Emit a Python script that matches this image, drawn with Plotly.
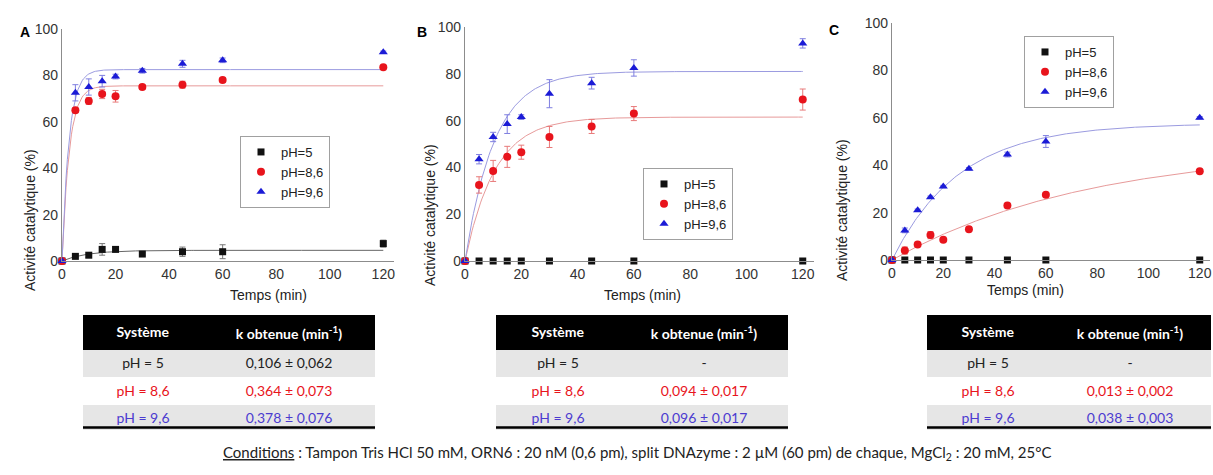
import numpy as np
import plotly.graph_objects as go

# ---------------- data ----------------
time_min = [0, 5, 10, 15, 20, 30, 45, 60, 120]
series_names = ["pH=5", "pH=8,6", "pH=9,6"]

# Panel A
A_ph5 = [0, 2, 2.5, 5, 5, 3, 4, 4, 7.5]
A_ph5_err = [0, 0.5, 1, 2.5, 0.5, 0.5, 2, 3, 1.5]
A_ph86 = [0, 65, 69, 72, 71, 75, 76, 78, 83.5]
A_ph86_err = [0, 1, 1.5, 2, 2.5, 1, 1.5, 1, 0.5]
A_ph96 = [0, 72.5, 75, 77.5, 79.5, 82, 85, 86.5, 90]
A_ph96_err = [0, 3.5, 3.5, 2.5, 1, 1, 1.5, 1, 0.5]

# Panel B
B_ph5 = [0, 0, 0, 0, 0, 0, 0, 0, 0]
B_ph5_err = [0, 0, 0, 0, 0, 0, 0, 0, 0]
B_ph86 = [0, 32.5, 38.5, 44.5, 46.5, 53, 57.5, 63, 69]
B_ph86_err = [0, 3.5, 4.5, 4.5, 3, 4.5, 3, 3, 4.5]
B_ph96 = [0, 43.5, 53, 58.5, 61.5, 71.5, 76, 82.5, 93]
B_ph96_err = [0, 2, 2, 4, 1, 6, 2.5, 3.5, 2]

# Panel C
C_ph5 = [0, 0, 0, 0, 0, 0, 0, 0, 0]
C_ph5_err = [0, 0, 0, 0, 0, 0, 0, 0, 0]
C_ph86 = [0, 4, 6.5, 10.5, 8.5, 13, 23, 27.5, 37.5]
C_ph86_err = [0, 1.5, 0.5, 1.5, 0.5, 1, 0.5, 0.5, 0.5]
C_ph96 = [0, 12.5, 21, 26.5, 31, 38.5, 44.5, 50, 60]
C_ph96_err = [0, 1, 0.5, 0.5, 0.5, 0.5, 1, 2.5, 0.5]

# fitted first-order parameters (k from tables, plateau)
A_k = [0.106, 0.364, 0.378]
A_plateau = [4.6, 75.5, 82.5]
B_k = [None, 0.094, 0.096]
B_plateau = [None, 61.5, 81.0]
C_k = [None, 0.013, 0.038]
C_plateau = [None, 47.5, 57.6]

# tables
table_sys = ["pH = 5", "pH = 8,6", "pH = 9,6"]
A_table_k = ["0,106 ± 0,062", "0,364 ± 0,073", "0,378 ± 0,076"]
B_table_k = ["-", "0,094 ± 0,017", "0,096 ± 0,017"]
C_table_k = ["-", "0,013 ± 0,002", "0,038 ± 0,003"]
table_header = ["<b>Système</b>", "<b>k obtenue (min<sup>-1</sup>)</b>"]

panel_letters = ["A", "B", "C"]
y_title = "Activité catalytique (%)"
x_title = "Temps (min)"
x_ticks = [0, 20, 40, 60, 80, 100, 120]
y_ticks = [0, 20, 40, 60, 80, 100]
conditions = ("<u>Conditions</u> : Tampon Tris HCl 50 mM, ORN6 : 20 nM (0,6 pm), "
              "split DNAzyme : 2 µM (60 pm) de chaque, MgCl<sub>2</sub> : 20 mM, 25°C")

# ---------------- style ----------------
W, H = 1213, 475
marker_colors = ["#111111", "#e8141c", "#1b1bd6"]
fit_colors = ["#666666", "#e79a9a", "#9b9be0"]
err_colors = ["#777777", "#e87a7a", "#7f7fe0"]
symbols = ["square", "circle", "triangle-up"]
sizes = [7, 8, 8]
row_text_colors = ["#222222", "#e8141c", "#4b3bd0"]
row_fills = ["#e6e6e6", "#ffffff", "#e6e6e6"]

def px(x):
    return x / W

def py(y):
    return 1 - y / H

panels = [
    dict(data=[A_ph5, A_ph86, A_ph96], err=[A_ph5_err, A_ph86_err, A_ph96_err],
         k=A_k, plat=A_plateau, xd=(62, 394), yd=(261, 29),
         legend=(240, 136), letter=(18, 22), ytitle=(20, 147), xtitle=(228, 295),
         table=(83, 375, 120), tk=A_table_k),
    dict(data=[B_ph5, B_ph86, B_ph96], err=[B_ph5_err, B_ph86_err, B_ph96_err],
         k=B_k, plat=B_plateau, xd=(465, 814), yd=(261, 27),
         legend=(643, 168), letter=(422, 22), ytitle=(430, 142), xtitle=(642, 295),
         table=(496, 788, 124), tk=B_table_k),
    dict(data=[C_ph5, C_ph86, C_ph96], err=[C_ph5_err, C_ph86_err, C_ph96_err],
         k=C_k, plat=C_plateau, xd=(892, 1210), yd=(260, 23),
         legend=(1024, 36), letter=(841, 20), ytitle=(852, 137), xtitle=(1066, 290),
         table=(927, 1211, 122), tk=C_table_k),
]

fig = go.Figure()
annotations = []
shapes = []
layout_axes = {}

tfit = np.linspace(0, 120, 241)

for i, p in enumerate(panels):
    n = "" if i == 0 else str(i + 1)
    xa, ya = "x" + n, "y" + n
    leg = "legend" if i == 0 else "legend" + str(i + 1)

    # fit curves
    for s in range(3):
        if p["k"][s] is None:
            continue
        yfit = p["plat"][s] * (1 - np.exp(-p["k"][s] * tfit))
        fig.add_trace(go.Scatter(x=tfit, y=yfit, mode="lines", xaxis=xa, yaxis=ya,
                                 line=dict(color=fit_colors[s], width=1),
                                 showlegend=False, hoverinfo="skip", legend=leg))
    # data points
    for s in range(3):
        fig.add_trace(go.Scatter(
            x=time_min, y=p["data"][s], mode="markers", name=series_names[s],
            xaxis=xa, yaxis=ya, legend=leg, cliponaxis=False,
            marker=dict(symbol=symbols[s], size=sizes[s], color=marker_colors[s]),
            error_y=dict(type="data", array=p["err"][s], visible=True,
                         color=err_colors[s], thickness=1, width=3)))

    axis_common = dict(showgrid=False, zeroline=False, showline=True, automargin=False,
                       linecolor="#8c8c8c", linewidth=1.3, ticks="",
                       tickfont=dict(family="Liberation Sans, Arial", size=14, color="#333333"))
    layout_axes["xaxis" + n] = dict(axis_common, domain=[px(p["xd"][0]), px(p["xd"][1])],
                                    range=[0, 124], tickvals=x_ticks, anchor=ya)
    layout_axes["yaxis" + n] = dict(axis_common, domain=[py(p["yd"][0]), py(p["yd"][1])],
                                    range=[0, 100], tickvals=y_ticks, anchor=xa)

    # legend
    layout_axes[leg] = dict(x=px(p["legend"][0]), y=py(p["legend"][1]),
                            xanchor="left", yanchor="top", xref="paper", yref="paper",
                            bgcolor="white", bordercolor="#a0a0a0", borderwidth=1,
                            font=dict(family="Liberation Sans, Arial", size=13, color="#222"),
                            itemwidth=30, tracegroupgap=0)

    # texts
    annotations.append(dict(x=px(p["letter"][0]), y=py(p["letter"][1]), xref="paper", yref="paper",
                            text="<b>" + panel_letters[i] + "</b>", showarrow=False,
                            font=dict(family="Liberation Sans, Arial", size=14, color="black")))
    annotations.append(dict(x=px(p["ytitle"][0]), y=py(p["ytitle"][1]), xref="paper", yref="paper",
                            text=y_title, textangle=-90, showarrow=False,
                            font=dict(family="Liberation Sans, Arial", size=14, color="#222")))
    annotations.append(dict(x=px(p["xtitle"][0]), y=py(p["xtitle"][1]), xref="paper", yref="paper",
                            text=x_title, showarrow=False,
                            font=dict(family="Liberation Sans, Arial", size=14, color="#222")))

    # table
    tx0, tx1, c1 = p["table"]
    fig.add_trace(go.Table(
        domain=dict(x=[px(tx0), px(tx1)], y=[py(430), py(315)]),
        columnwidth=[c1, tx1 - tx0 - c1],
        header=dict(values=table_header, fill_color="black", height=30,
                    line=dict(color="black", width=0), align="center",
                    font=dict(family="Lato, Carlito, sans-serif", size=14, color="white")),
        cells=dict(values=[table_sys, p["tk"]], height=27.5,
                   fill_color=[row_fills, row_fills],
                   line=dict(color=row_fills, width=0), align="center",
                   font=dict(family="Lato, Carlito, sans-serif", size=14,
                             color=[row_text_colors, row_text_colors]))))
    shapes.append(dict(type="line", xref="paper", yref="paper",
                       x0=px(tx0), x1=px(tx1), y0=py(427.5), y1=py(427.5),
                       line=dict(color="black", width=2.5)))

annotations.append(dict(x=px(637), y=py(465), xref="paper", yref="paper", text=conditions,
                        showarrow=False, font=dict(family="Lato, Carlito, sans-serif", size=15, color="#222")))

fig.update_layout(width=W, height=H, margin=dict(l=0, r=0, t=0, b=0, autoexpand=False),
                  paper_bgcolor="white", plot_bgcolor="white",
                  annotations=annotations, shapes=shapes, **layout_axes)

fig.write_html("out.html", config={"displayModeBar": False},
               post_script="document.body.style.margin='0';document.body.style.padding='0';"
                           "document.documentElement.style.overflow='hidden';")
